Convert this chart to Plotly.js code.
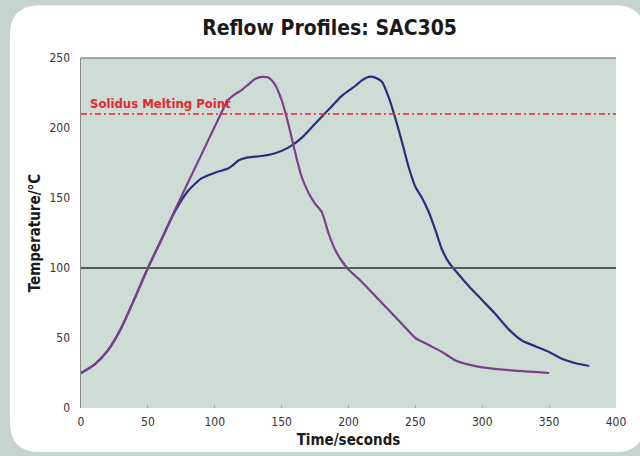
<!DOCTYPE html>
<html>
<head>
<meta charset="utf-8">
<script src="https://cdn.plot.ly/plotly-3.0.1.min.js"></script>
<style>
html,body{margin:0;padding:0;background:#c3d5cd;}
#chart{width:640px;height:456px;}
text, tspan{font-stretch:condensed !important;}
</style>
</head>
<body>
<div id="chart"></div>
<script>
// Profile 1 (purple)
var timeA = [0,10,20,30,40,50,60,70,80,90,100,110,115,120,125,130,135,140,145,150,155,160,165,170,175,180,185,190,195,200,210,220,230,240,250,260,270,280,290,300,320,350];
var tempA = [25,31,41,57,78,100,120,141,161,181,201,220,224,227,231,235,236.5,236,231,220,203,183,165,154,146,140,125,113,105,99,90,80,70,60,50,45,40,34,31,29,27,25];
// Profile 2 (blue)
var timeB = [0,10,20,30,40,50,60,70,80,90,100,110,113,118,125,135,145,155,165,175,185,195,205,210,215,220,225,230,235,240,245,250,255,260,265,270,275,280,290,300,310,320,330,340,350,360,370,380];
var tempB = [25,31,41,57,78,100,120,140,155,164,168,171,173,177,179,180,182,186,193,203,213,223,230,234,236.5,236,233,222,207,190,172,158,150,140,127,113,104,98,87,77,67,56,48,44,40,35,32,30];
var solidus = 210;
var refLine = 100;
var xTicks = [0,50,100,150,200,250,300,350,400];
var yTicks = [0,50,100,150,200,250];

var narrow = '"DejaVu Sans", sans-serif';

var traces = [
  {x: timeB, y: tempB, type: 'scatter', mode: 'lines', line: {color: '#2b2e80', width: 2.2, shape: 'spline', smoothing: 0.6}, hoverinfo: 'skip'},
  {x: timeA, y: tempA, type: 'scatter', mode: 'lines', line: {color: '#7d3f8c', width: 2.2, shape: 'spline', smoothing: 0.6}, hoverinfo: 'skip'}
];

var x0 = -0.133, x1 = 1.054, y0 = -0.126, y1 = 1.151, rx = 0.056, ry = 0.086;
var panelPath = 'M ' + (x0 + rx) + ',' + y1 + ' L ' + (x1 - rx) + ',' + y1 + ' Q ' + x1 + ',' + y1 + ' ' + x1 + ',' + (y1 - ry) +
  ' L ' + x1 + ',' + (y0 + ry) + ' Q ' + x1 + ',' + y0 + ' ' + (x1 - rx) + ',' + y0 +
  ' L ' + (x0 + rx) + ',' + y0 + ' Q ' + x0 + ',' + y0 + ' ' + x0 + ',' + (y0 + ry) +
  ' L ' + x0 + ',' + (y1 - ry) + ' Q ' + x0 + ',' + y1 + ' ' + (x0 + rx) + ',' + y1 + ' Z';

var layout = {
  width: 640, height: 456,
  margin: {l: 81, r: 24, t: 58, b: 48},
  paper_bgcolor: 'rgba(0,0,0,0)',
  plot_bgcolor: 'rgba(0,0,0,0)',
  showlegend: false,
  title: {text: '<b>Reflow Profiles: SAC305</b>', font: {family: narrow, size: 21, color: '#1a1a1a'}, x: 0.515, xanchor: 'center', y: 0.94, yanchor: 'middle'},
  xaxis: {
    range: [0, 400], tickvals: xTicks, ticktext: xTicks.map(String),
    showgrid: false, zeroline: false, showline: false,
    ticks: 'inside', ticklen: 3, tickcolor: '#aaa', ticklabelstandoff: 5,
    tickfont: {family: narrow, size: 12, color: '#333'},
    title: {text: '<b>Time/seconds</b>', font: {family: narrow, size: 15, color: '#1a1a1a'}, standoff: 6}
  },
  yaxis: {
    range: [0, 250], tickvals: yTicks, ticktext: yTicks.map(String),
    showgrid: false, zeroline: false, showline: true, linecolor: '#8a8a8a', linewidth: 1.5,
    ticks: '', ticklabelstandoff: 7,
    tickfont: {family: narrow, size: 12, color: '#333'},
    title: {text: '<b>Temperature/°C</b>', font: {family: narrow, size: 15, color: '#1a1a1a'}, standoff: 5}
  },
  shapes: [
    {type: 'path', xref: 'paper', yref: 'paper', layer: 'below', path: panelPath,
     fillcolor: '#ffffff', line: {width: 0}},
    {type: 'rect', xref: 'paper', yref: 'paper', layer: 'below', x0: 0, x1: 1, y0: 0, y1: 1,
     fillcolor: '#cddcd5', line: {width: 0}},
    {type: 'line', xref: 'paper', yref: 'paper', layer: 'below', x0: 0, x1: 1, y0: 1, y1: 1,
     line: {color: '#8a8a8a', width: 1.5}},
    {type: 'line', xref: 'paper', yref: 'y', x0: 0, x1: 1, y0: refLine, y1: refLine,
     line: {color: '#555b57', width: 1.8}},
    {type: 'line', xref: 'paper', yref: 'y', x0: 0, x1: 1, y0: solidus, y1: solidus,
     line: {color: '#e8262d', width: 1.3, dash: '6px,3px,2px,3px'}}
  ],
  annotations: [
    {text: '<b>Solidus Melting Point</b>', xref: 'x', yref: 'y', x: 5, y: solidus, xanchor: 'left', yanchor: 'bottom', yshift: 1, showarrow: false,
     font: {family: narrow, size: 13, color: '#e8262d'}}
  ]
};

Plotly.newPlot('chart', traces, layout, {staticPlot: true, displayModeBar: false});
</script>
</body>
</html>
